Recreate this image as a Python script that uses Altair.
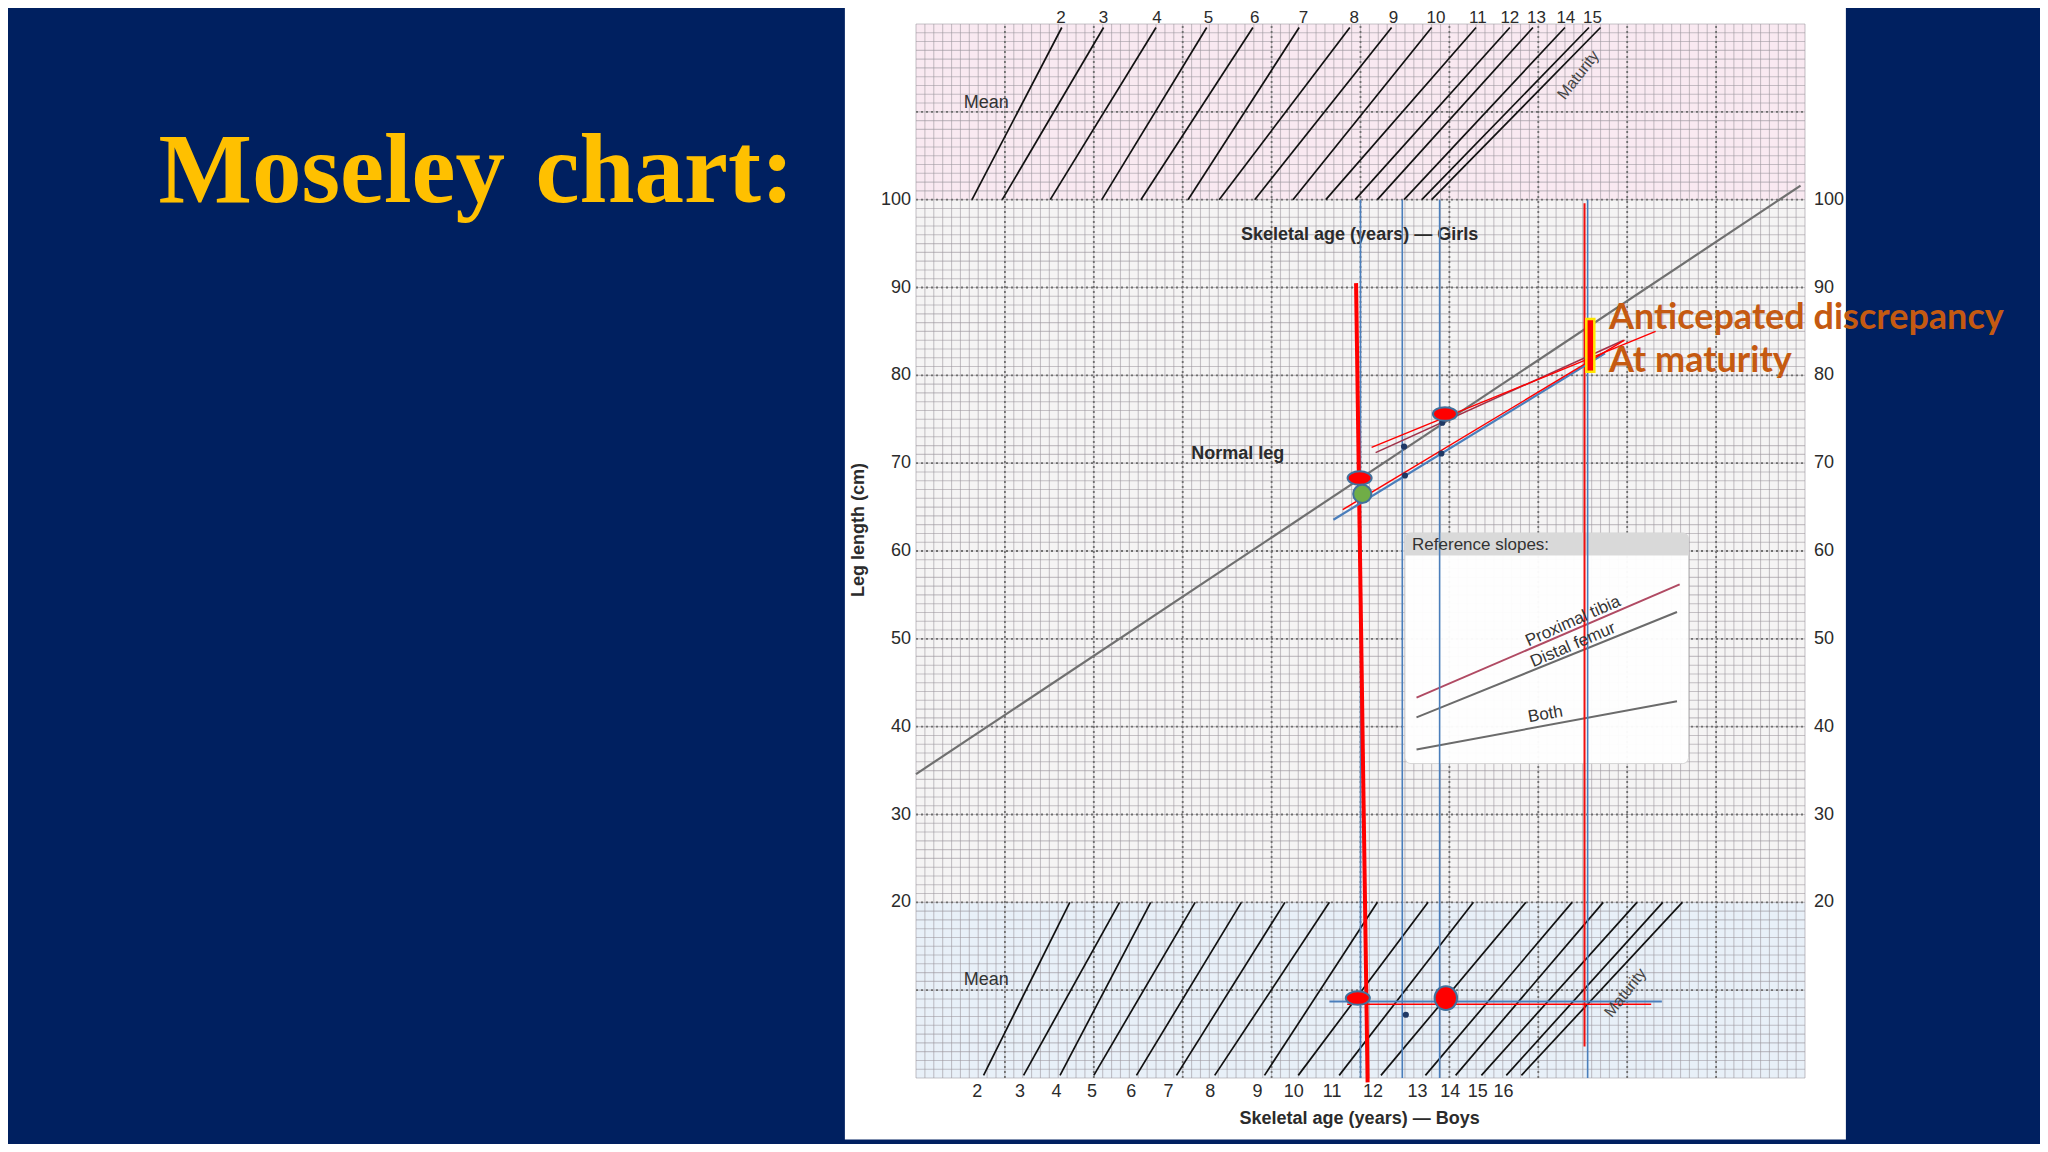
import altair as alt
import pandas as pd

# ---- values ----
leg_ticks = [20, 30, 40, 50, 60, 70, 80, 90, 100]

girls_ages = [2, 3, 4, 5, 6, 7, 8, 9, 10, 11, 12, 13, 14, 15]
girls_label_x = [16.3, 21.1, 27.1, 32.9, 38.1, 43.6, 49.3, 53.7, 58.5, 63.2, 66.8, 69.8, 73.1, 76.1]
# girls' age lines: top end (at the age label) and bottom end on the 100 cm line, last one = maturity
girls_top_x = [16.4, 21.1, 27.0, 32.7, 37.9, 43.1, 48.8, 53.5, 58.0, 63.0, 66.8, 69.4, 73.0, 75.7, 77.0]
girls_bottom_x = [6.3, 9.7, 15.1, 20.9, 25.3, 30.6, 34.1, 38.1, 42.4, 46.1, 49.4, 51.9, 54.9, 56.9, 58.0]

boys_ages = [2, 3, 4, 5, 6, 7, 8, 9, 10, 11, 12, 13, 14, 15, 16]
boys_label_x = [6.9, 11.7, 15.8, 19.8, 24.2, 28.4, 33.1, 38.4, 42.5, 46.8, 51.4, 56.4, 60.1, 63.2, 66.1]
boys_bottom_x = [7.6, 12.1, 16.2, 20.0, 24.8, 29.3, 33.6, 39.2, 43.0, 47.6, 52.3, 57.3, 60.7, 63.6, 66.4, 68.1]
boys_top_x = [17.3, 22.9, 26.4, 31.4, 36.6, 41.5, 46.5, 51.9, 57.6, 62.7, 68.6, 73.8, 77.3, 81.1, 84.0, 86.2]

normal_leg = [(0, 34.6, 99.5, 101.6)]

# patient plot
blue_verticals = [50.0, 54.7, 58.9, 75.55]
thick_red = [(49.5, 90.5, 50.8, -0.5)]
thin_red = [(75.2, 99.6, 75.2, 3.6)]
blue_slopes = [(46.95, 63.56, 77.5, 82.5)]
red_slopes = [(48.0, 64.7, 79.7, 84.0), (51.25, 71.8, 83.2, 85.0)]
darkred_slopes = [(51.7, 71.2, 79.6, 84.0)]
boys_blue_h = [(46.5, 8.7, 83.9, 8.7)]
boys_red_h = [(48.5, 8.4, 82.7, 8.4)]
discrepancy = [(75.4, 80.4, 76.3, 86.4)]

red_ovals = [(49.9, 68.3), (59.5, 75.6), (49.7, 9.1)]
green_dot = [(50.2, 66.5)]
red_round = [(59.6, 9.1)]
small_dots = [(54.9, 71.9), (55.0, 68.6), (59.1, 71.1), (59.2, 74.6), (55.1, 7.2)]

# reference slopes box
ref_box = [(55.0, 35.8, 86.9, 62.05)]
ref_head = [(55.0, 59.5, 86.9, 62.05)]
ref_tibia = [(56.3, 43.3, 85.9, 56.2)]
ref_grey = [(56.3, 41.05, 85.6, 53.05), (56.3, 37.4, 85.6, 42.9)]

panel = [(-8.0, -7.0, 104.6, 122.8)]
bands = {"boys": (0, 20), "mid": (20, 100), "girls": (100, 120)}

NAVY = "#002060"
FONT = "Liberation Sans"

X = alt.Scale(domain=[0, 100], nice=False)
Y = alt.Scale(domain=[0, 120], nice=False)


def segs(rows):
    return pd.DataFrame(rows, columns=["x", "y", "x2", "y2"])


def rule(df, **kw):
    return alt.Chart(df).mark_rule(**kw).encode(
        x=alt.X("x:Q", scale=X, axis=None), y=alt.Y("y:Q", scale=Y, axis=None),
        x2="x2:Q", y2="y2:Q")


def box(df, **kw):
    return alt.Chart(df).mark_rect(**kw).encode(
        x=alt.X("x:Q", scale=X, axis=None), y=alt.Y("y:Q", scale=Y, axis=None),
        x2="x2:Q", y2="y2:Q")


def text(df, **kw):
    kw.setdefault("font", FONT)
    kw.setdefault("fontSize", 18)
    kw.setdefault("color", "#2b2b2b")
    return alt.Chart(df).mark_text(**kw).encode(
        x=alt.X("x:Q", scale=X, axis=None), y=alt.Y("y:Q", scale=Y, axis=None),
        text="t:N")


def pts(rows, **kw):
    df = pd.DataFrame(rows, columns=["x", "y"])
    return alt.Chart(df).mark_point(filled=True, **kw).encode(
        x=alt.X("x:Q", scale=X, axis=None), y=alt.Y("y:Q", scale=Y, axis=None))


def lbl(t, x, y):
    return pd.DataFrame({"t": [t], "x": [x], "y": [y]})


OVAL = "M-1,0 A1,0.56 0 1,1 1,0 A1,0.56 0 1,1 -1,0 Z"
ROUND = "M-0.95,0 A0.95,1 0 1,1 0.95,0 A0.95,1 0 1,1 -0.95,0 Z"

layers = []
layers.append(box(segs(panel), color="white"))
layers.append(box(segs([(0, bands["boys"][0], 100, bands["boys"][1])]), color="#e8f0f8"))
layers.append(box(segs([(0, bands["mid"][0], 100, bands["mid"][1])]), color="#f5f4f4"))
layers.append(box(segs([(0, bands["girls"][0], 100, bands["girls"][1])]), color="#f9e9f1"))

# graph paper
minor_v = segs([(i, 0, i, 120) for i in range(0, 101)])
minor_h = segs([(0, j, 100, j) for j in range(0, 121)])
layers.append(rule(minor_v, color="#9a959c", opacity=0.55, strokeWidth=1.1))
layers.append(rule(minor_h, color="#9a959c", opacity=0.55, strokeWidth=1.1))
major_v = segs([(i, 0, i, 120) for i in range(10, 100, 10)])
major_h = segs([(0, j, 100, j) for j in range(10, 120, 10)])
layers.append(rule(major_v, color="#707070", strokeWidth=1.8, strokeDash=[2, 3]))
layers.append(rule(major_h, color="#707070", strokeWidth=1.8, strokeDash=[2, 3]))

# age lines
girls_lines = segs([(b, 100, t, 119.6) for b, t in zip(girls_bottom_x, girls_top_x)])
boys_lines = segs([(b, 0.3, t, 20) for b, t in zip(boys_bottom_x, boys_top_x)])
layers.append(rule(girls_lines, color="#111111", strokeWidth=1.7))
layers.append(rule(boys_lines, color="#111111", strokeWidth=1.7))

# normal leg
layers.append(rule(segs(normal_leg), color="#707070", strokeWidth=2.2))

# reference slopes box
layers.append(box(segs(ref_box), color="white", opacity=0.96, stroke="#d4d4d4",
                  strokeWidth=1, cornerRadius=6))
layers.append(box(segs(ref_head), color="#d9d9d9", cornerRadiusTopLeft=6, cornerRadiusTopRight=6))
layers.append(rule(segs(ref_tibia), color="#b04a63", strokeWidth=2))
layers.append(rule(segs(ref_grey), color="#6b6b6b", strokeWidth=2))
layers.append(text(lbl("Skeletal age (years) \u2014 Girls", 49.9, 96.0), fontWeight="bold",
                   align="center", baseline="middle"))

# patient lines
layers.append(rule(segs([(v, 100, v, 0) for v in blue_verticals]), color="#4a7ebb", strokeWidth=1.6))
layers.append(rule(segs(thin_red), color="#f01010", strokeWidth=2))
layers.append(rule(segs(thick_red), color="#ff0000", strokeWidth=4))
layers.append(rule(segs(blue_slopes), color="#4a7ebb", strokeWidth=2.2))
layers.append(rule(segs(darkred_slopes), color="#a0334a", strokeWidth=1.6))
layers.append(rule(segs(red_slopes), color="#ff0000", strokeWidth=1.4))
layers.append(rule(segs(boys_blue_h), color="#4a7ebb", strokeWidth=2))
layers.append(rule(segs(boys_red_h), color="#ff0000", strokeWidth=1.4))
layers.append(box(segs(discrepancy), color="#ff0000", stroke="#ffe600", strokeWidth=2.5))

# marked points
layers.append(pts(small_dots, shape="circle", size=38, color="#1f3864", opacity=1))
layers.append(pts(red_ovals, shape=OVAL, size=580, color="#ff0000", opacity=1,
                  stroke="#41719c", strokeWidth=2))
layers.append(pts(green_dot, shape="circle", size=330, color="#70ad47", opacity=1,
                  stroke="#41719c", strokeWidth=2))
layers.append(pts(red_round, shape=ROUND, size=560, color="#ff0000", opacity=1,
                  stroke="#41719c", strokeWidth=2))

# axis-like labels
ticks = pd.DataFrame({"t": [str(v) for v in leg_ticks], "y": leg_ticks})
layers.append(text(ticks.assign(x=0), align="right", baseline="middle", dx=-5))
layers.append(text(ticks.assign(x=100), align="left", baseline="middle", dx=9))
layers.append(text(pd.DataFrame({"t": [str(a) for a in girls_ages], "x": girls_label_x, "y": 120.65}),
                   fontSize=17, align="center", baseline="middle"))
layers.append(text(pd.DataFrame({"t": [str(a) for a in boys_ages], "x": boys_label_x, "y": -1.6}),
                   align="center", baseline="middle"))
layers.append(text(lbl("Leg length (cm)", -6.4, 62.4), angle=270, fontWeight="bold",
                   align="center", baseline="middle"))
layers.append(text(lbl("Skeletal age (years) \u2014 Boys", 49.9, -4.7), fontWeight="bold",
                   align="center", baseline="middle"))
layers.append(text(lbl("Normal leg", 36.2, 71.0), fontWeight="bold", align="center", baseline="middle"))
layers.append(text(pd.concat([lbl("Mean", 7.9, 111.0), lbl("Mean", 7.9, 11.2)]),
                   align="center", baseline="middle", color="#333333"))
layers.append(text(pd.concat([lbl("Maturity", 74.5, 114.2), lbl("Maturity", 79.8, 9.7)]),
                   angle=308, fontSize=16, align="center", baseline="middle", color="#444444"))
layers.append(text(lbl("Reference slopes:", 55.8, 60.7), fontSize=17, align="left",
                   baseline="middle", color="#333333"))
layers.append(text(lbl("Proximal tibia", 73.9, 52.0), angle=336, fontSize=17, align="center",
                   baseline="middle", color="#333333"))
layers.append(text(lbl("Distal femur", 73.9, 49.3), angle=337, fontSize=17, align="center",
                   baseline="middle", color="#333333"))
layers.append(text(lbl("Both", 70.8, 41.4), angle=350, fontSize=17, align="center",
                   baseline="middle", color="#333333"))
layers.append(text(pd.concat([lbl("Anticepated discrepancy", 77.95, 86.5), lbl("At maturity", 77.95, 81.6)]),
                   font="Lato", fontWeight="bold", fontSize=36, color="#c55a11",
                   align="left", baseline="middle"))
layers.append(text(pd.concat([lbl("Moseley", -85.2, 99.7), lbl("chart:", -42.8, 99.7)]),
                   font="Liberation Serif", fontWeight="bold",
                   fontSize=99, color="#ffc000", align="left", baseline="alphabetic"))

chart = alt.layer(*layers).properties(
    width=889,
    height=1054,
    autosize=alt.AutoSizeParams(type="none"),
    padding={"left": 908, "top": 16, "right": 235, "bottom": 66},
    background=NAVY,
).configure_view(strokeWidth=0)

chart.save("out.html", embed_options={"renderer": "svg", "actions": False})
